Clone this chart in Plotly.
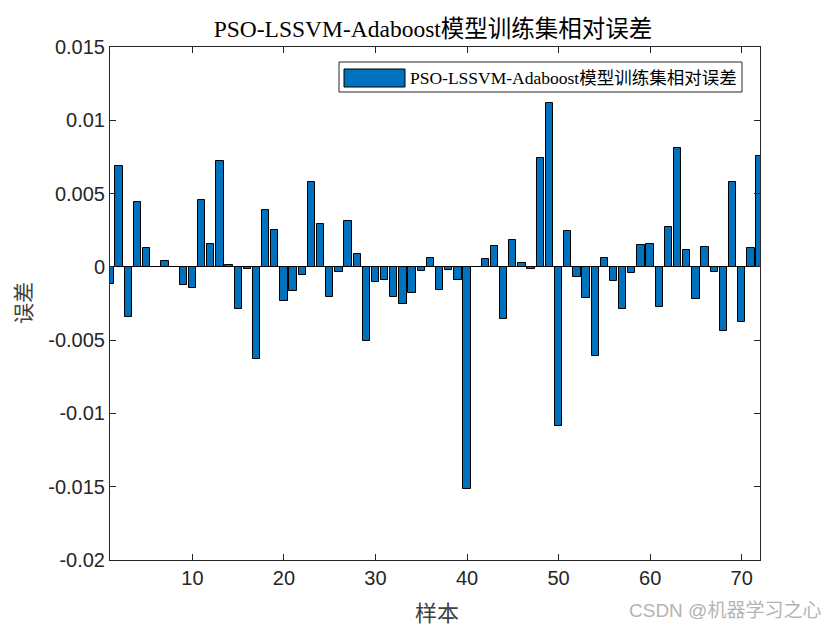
import plotly.graph_objects as go

samples = list(range(1, 73))
errors = [
    -0.00116, 0.0069, -0.0034, 0.0044, 0.0013, 0.00002, 0.0004, 0.0, -0.00125, -0.00145,
    0.00455, 0.00155, 0.0072, 0.0001, -0.0029, -0.00016, -0.0063, 0.00386, 0.0025, -0.00234,
    -0.00166, -0.00057, 0.00577, 0.0029, -0.00207, -0.00036, 0.0031, 0.00086, -0.00507, -0.00105,
    -0.00091, -0.00207, -0.00255, -0.0018, -0.0003, 0.00059, -0.00159, -0.00023, -0.00091, -0.01516,
    0.0, 0.00052, 0.00141, -0.00357, 0.00182, 0.00025, -0.00016, 0.00744, 0.0112, -0.01087,
    0.00243, -0.0007, -0.00214, -0.00609, 0.00059, -0.00098, -0.00289, -0.00043, 0.00148, 0.00155,
    -0.00275, 0.0027, 0.00809, 0.00114, -0.0022, 0.00134, -0.00036, -0.00439, 0.00577, -0.00377,
    0.00127, 0.00755,
]
y_tick_vals = [0.015, 0.01, 0.005, 0, -0.005, -0.01, -0.015, -0.02]
y_tick_text = ["0.015", "0.01", "0.005", "0", "-0.005", "-0.01", "-0.015", "-0.02"]
x_tick_vals = [10, 20, 30, 40, 50, 60, 70]

title_text = "PSO-LSSVM-Adaboost模型训练集相对误差"
legend_text = "PSO-LSSVM-Adaboost模型训练集相对误差"
xlabel = "样本"
ylabel = "误差"
watermark = "CSDN @机器学习之心"

# page offset (body margin) compensation
OFF = 8
W, H = 840 - OFF, 630 - OFF
# plot area in page pixel coords
L, R, T, B = 110, 760, 47, 560

def px(x):
    return (x - L) / (R - L)

def py(y):
    return (B - y) / (B - T)

axis_col = "#262626"
serif = "Liberation Serif, Times New Roman, Noto Sans CJK SC, serif"
sans = "Liberation Sans, Arial, Helvetica, sans-serif"
cjk = "Noto Sans CJK SC, sans-serif"
wm_font = "Liberation Sans, Arial, Noto Sans CJK SC, sans-serif"

fig = go.Figure()
fig.add_trace(go.Bar(
    x=samples, y=errors, width=0.8,
    marker=dict(color="#0072BD", line=dict(color="#000000", width=1)),
    showlegend=False,
))

fig.update_layout(
    width=W, height=H,
    margin=dict(l=L - OFF, r=W - (R - OFF), t=T - OFF, b=H - (B - OFF)),
    plot_bgcolor="white", paper_bgcolor="white",
    title=dict(text=title_text, x=(433 - OFF) / W, xanchor="center",
               y=1 - (29 - OFF) / H, yanchor="middle",
               font=dict(family=serif, size=23.5, color="#000000")),
    bargap=0,
)
fig.update_xaxes(
    range=[1, 72], tickvals=x_tick_vals, ticks="inside", ticklen=6, tickcolor=axis_col,
    showline=True, linecolor=axis_col, linewidth=1, mirror="allticks",
    showgrid=False, zeroline=False,
    tickfont=dict(family=sans, size=20, color=axis_col),
)
fig.update_yaxes(
    range=[-0.02, 0.015], tickvals=y_tick_vals, ticktext=y_tick_text,
    ticks="inside", ticklen=6, tickcolor=axis_col,
    showline=True, linecolor=axis_col, linewidth=1, mirror="allticks",
    showgrid=False, zeroline=True, zerolinecolor="#000000", zerolinewidth=1,
    tickfont=dict(family=sans, size=20, color=axis_col),
)

# axis labels
fig.add_annotation(text=xlabel, xref="paper", yref="paper", x=px(437), y=py(611),
                   showarrow=False, xanchor="center", yanchor="middle",
                   font=dict(family=cjk, size=22, color="#404040"))
fig.add_annotation(text=ylabel, xref="paper", yref="paper", x=px(22), y=py(303),
                   showarrow=False, xanchor="center", yanchor="middle", textangle=-90,
                   font=dict(family=cjk, size=21, color="#404040"))

# legend box
fig.add_shape(type="rect", xref="paper", yref="paper",
              x0=px(339), x1=px(742), y0=py(92), y1=py(62),
              line=dict(color=axis_col, width=1), fillcolor="white")
fig.add_shape(type="rect", xref="paper", yref="paper",
              x0=px(344), x1=px(405), y0=py(87), y1=py(69),
              line=dict(color="#000000", width=1), fillcolor="#0072BD")
fig.add_annotation(text=legend_text, xref="paper", yref="paper", x=px(408), y=py(78),
                   showarrow=False, xanchor="left", yanchor="middle",
                   font=dict(family=serif, size=17.5, color="#000000"))

# watermark
fig.add_annotation(text=watermark, xref="paper", yref="paper", x=px(823), y=py(610),
                   showarrow=False, xanchor="right", yanchor="middle",
                   font=dict(family=wm_font, size=19, color="#b4b4b4"))

fig.write_html("out.html")
